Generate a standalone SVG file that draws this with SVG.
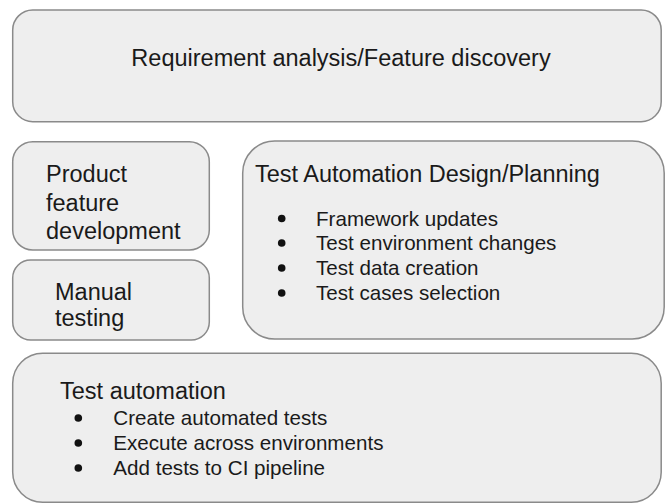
<svg xmlns="http://www.w3.org/2000/svg" width="665" height="504" viewBox="0 0 665 504">
  <style>
    .box { fill: #eeeeee; stroke: #8a8a8a; stroke-width: 1.5; }
    .t { font-family: "Liberation Sans", Arial, sans-serif; fill: #1a1a1a; }
    .h { font-size: 23.5px; }
    .b { font-size: 20.6px; }
    .dot { fill: #111111; }
  </style>
  <rect width="665" height="504" fill="#ffffff"/>
  <g id="requirement-analysis">
    <rect class="box" x="12.7" y="10" width="648.5" height="111.7" rx="20" ry="20"/>
    <text class="t h" x="341" y="66" text-anchor="middle">Requirement analysis/Feature discovery</text>
  </g>
  <g id="product-feature-development">
    <rect class="box" x="12.7" y="141.7" width="196.6" height="108.3" rx="20" ry="20"/>
    <text class="t h" x="46" y="182">Product</text>
    <text class="t h" x="46" y="211">feature</text>
    <text class="t h" x="46" y="239">development</text>
  </g>
  <g id="manual-testing">
    <rect class="box" x="12.7" y="260" width="196.6" height="80" rx="18" ry="18"/>
    <text class="t h" x="55" y="300">Manual</text>
    <text class="t h" x="55" y="326">testing</text>
  </g>
  <g id="test-automation-design">
    <rect class="box" x="242.7" y="141" width="421.5" height="198" rx="32" ry="32"/>
    <text class="t h" x="255" y="181.7">Test Automation Design/Planning</text>
    <circle class="dot" cx="281.7" cy="218.5" r="3.8"/>
    <text class="t b" x="316" y="225.7">Framework updates</text>
    <circle class="dot" cx="281.7" cy="243" r="3.8"/>
    <text class="t b" x="316" y="250">Test environment changes</text>
    <circle class="dot" cx="281.7" cy="268" r="3.8"/>
    <text class="t b" x="316" y="275">Test data creation</text>
    <circle class="dot" cx="281.7" cy="293" r="3.8"/>
    <text class="t b" x="316" y="300">Test cases selection</text>
  </g>
  <g id="test-automation">
    <rect class="box" x="12.7" y="353.3" width="648.5" height="149" rx="30" ry="30"/>
    <text class="t h" x="60" y="399.3">Test automation</text>
    <circle class="dot" cx="78.3" cy="418" r="3.8"/>
    <text class="t b" x="113.3" y="425">Create automated tests</text>
    <circle class="dot" cx="78.3" cy="443" r="3.8"/>
    <text class="t b" x="113.3" y="450">Execute across environments</text>
    <circle class="dot" cx="78.3" cy="468" r="3.8"/>
    <text class="t b" x="113.3" y="475">Add tests to CI pipeline</text>
  </g>
  <g id="connectors"></g>
</svg>
